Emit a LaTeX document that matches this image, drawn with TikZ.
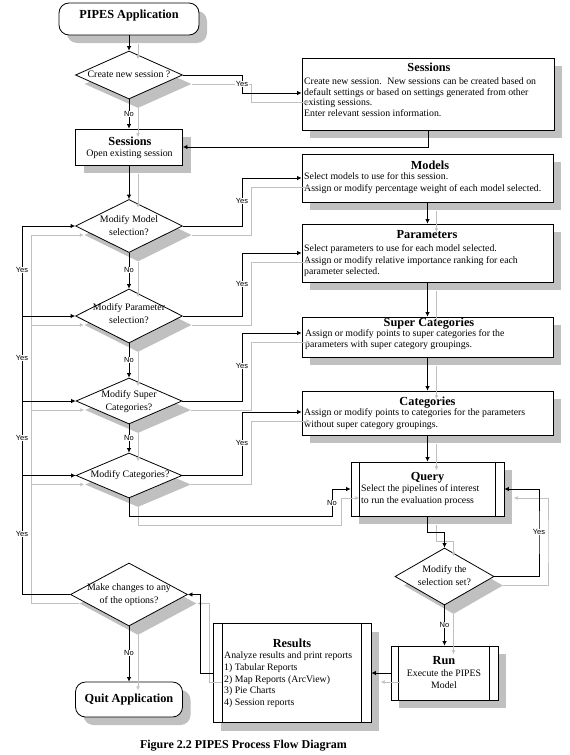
\documentclass[tikz,border=0pt]{standalone}
\usepackage{fontspec}
\setmainfont{Liberation Serif}
\newfontfamily\lblfont{Liberation Sans}
\usetikzlibrary{arrows.meta,shapes.geometric,shadows,calc}
\definecolor{shd}{RGB}{192,192,192}
\begin{document}
\begin{tikzpicture}[x=1pt,y=-1pt,
  shp/.style={draw=black, fill=white, line width=0.8pt, inner sep=0pt},
  box/.style={shp, rectangle, drop shadow={shadow xshift=8pt, shadow yshift=-8pt, fill=shd, opacity=1}},
  term/.style={box, rounded corners=10pt},
  dec/.style={shp, diamond, drop shadow={shadow xshift=9pt, shadow yshift=-9pt, fill=shd, opacity=1}},
  conn/.style={draw=black, line width=0.8pt, -{Latex[length=4.5pt,width=4.5pt]},
     preaction={draw=shd, transform canvas={shift={(9pt,-9pt)}}}},
  connplain/.style={draw=black, line width=0.8pt, -{Latex[length=4.5pt,width=4.5pt]}},
  ttl/.style={font=\fontsize{12.3}{14}\selectfont\bfseries, inner sep=0pt, anchor=base},
  body/.style={font=\fontsize{9.8}{11.5}\selectfont, inner sep=0pt, anchor=north west, align=left},
  dtxt/.style={font=\fontsize{9.9}{12.5}\selectfont, inner sep=0pt, anchor=north, align=center},
  lbl/.style={font=\lblfont\fontsize{7.5}{8}\selectfont, fill=white, inner sep=0.6pt}
]
\fill[white] (0,0) rectangle (570,755);
\useasboundingbox (0,0) rectangle (570,755);

% ---------- shapes ----------
\node[term, minimum width=140pt, minimum height=32pt] (start) at (129,19) {};
\node[dec, minimum width=107pt, minimum height=48pt] (d1) at (129,75) {};
\node[box, minimum width=252pt, minimum height=72pt] (sessNew) at (428,94) {};
\node[box, minimum width=107pt, minimum height=36pt] (sessOpen) at (129,147) {};
\node[dec, minimum width=107pt, minimum height=53pt] (d2) at (129,226) {};
\node[box, minimum width=251pt, minimum height=48pt] (models) at (427.5,178) {};
\node[dec, minimum width=107pt, minimum height=54pt] (d3) at (129,316) {};
\node[box, minimum width=251pt, minimum height=58pt] (params) at (427.5,253) {};
\node[dec, minimum width=106pt, minimum height=46pt] (d4) at (129,401) {};
\node[box, minimum width=251pt, minimum height=40pt] (superc) at (427.5,337) {};
\node[dec, minimum width=106pt, minimum height=45pt] (d5) at (129,475.5) {};
\node[box, minimum width=251pt, minimum height=44pt] (cats) at (427.5,413) {};
\node[box, minimum width=153pt, minimum height=54pt] (query) at (427.5,489) {};
\node[dec, minimum width=99pt, minimum height=57pt] (d6) at (444.5,576.5) {};
\node[box, minimum width=107pt, minimum height=54pt] (run) at (444.5,673) {};
\node[box, minimum width=158pt, minimum height=99pt] (results) at (292,673) {};
\node[dec, minimum width=117pt, minimum height=63pt] (d7) at (129,594.5) {};
\node[term, minimum width=107pt, minimum height=35pt] (quit) at (129,699.5) {};

% inner side bars
\draw[line width=0.8pt] ([xshift=9pt]query.north west) -- ([xshift=9pt]query.south west);
\draw[line width=0.8pt] ([xshift=-9pt]query.north east) -- ([xshift=-9pt]query.south east);
\draw[line width=0.8pt] ([xshift=8pt]run.north west) -- ([xshift=8pt]run.south west);
\draw[line width=0.8pt] ([xshift=-9pt]run.north east) -- ([xshift=-9pt]run.south east);
\draw[line width=0.8pt] ([xshift=10pt]results.north west) -- ([xshift=10pt]results.south west);
\draw[line width=0.8pt] ([xshift=-10pt]results.north east) -- ([xshift=-10pt]results.south east);

% ---------- texts ----------
\node[ttl] (startT) at (129,18) {PIPES Application};
\node[dtxt] (d1T) at (129,70.5) {\rule{0pt}{7pt}Create new session ?};
\node[ttl] (sessNewT1) at (429,71) {Sessions};
\node[body, font=\fontsize{9.8}{10.5}\selectfont] (sessNewT) at (304,77.5) {\rule{0pt}{7pt}Create new session.~ New sessions can be created based on\\default settings or based on settings generated from other\\existing sessions.\\Enter relevant session information.};
\node[ttl] (sessOpenT1) at (130,145) {Sessions};
\node[dtxt] (sessOpenT) at (129.5,149.5) {\rule{0pt}{7pt}Open existing session};
\node[dtxt] (d2T) at (129,215.5) {\rule{0pt}{7pt}Modify Model\\selection?};
\node[ttl] (modelsT1) at (430,169) {Models};
\node[body] (modelsT) at (304,172.5) {\rule{0pt}{7pt}Select models to use for this session.\\Assign or modify percentage weight of each model selected.};
\node[dtxt] (d3T) at (129,303.5) {\rule{0pt}{7pt}Modify Parameter\\selection?};
\node[ttl] (paramsT1) at (427,238) {Parameters};
\node[body] (paramsT) at (304,244.5) {\rule{0pt}{7pt}Select parameters to use for each model selected.\\Assign or modify relative importance ranking for each\\parameter selected.};
\node[dtxt] (d4T) at (129,390.5) {\rule{0pt}{7pt}Modify Super\\Categories?};
\node[ttl] (supercT1) at (429,326.5) {Super Categories};
\node[body] (supercT) at (305,329) {\rule{0pt}{7pt}Assign or modify points to super categories for the\\parameters with super category groupings.};
\node[dtxt] (d5T) at (130,470.5) {\rule{0pt}{7pt}Modify Categories?};
\node[ttl] (catsT1) at (427.5,405) {Categories};
\node[body] (catsT) at (304,408.5) {\rule{0pt}{7pt}Assign or modify points to categories for the parameters\\without super category groupings.};
\node[ttl] (queryT1) at (427.5,480) {Query};
\node[body] (queryT) at (361,484.5) {\rule{0pt}{7pt}Select the pipelines of interest\\to run the evaluation process};
\node[dtxt] (d6T) at (444.5,565.5) {\rule{0pt}{7pt}Modify the\\selection set?};
\node[ttl] (runT1) at (444,664) {Run};
\node[dtxt, font=\fontsize{9.8}{12}\selectfont] (runT) at (444,669.5) {\rule{0pt}{7pt}Execute the PIPES\\Model};
\node[ttl] (resultsT1) at (292,647) {Results};
\node[body, font=\fontsize{9.8}{11.7}\selectfont] (resultsT) at (224,651.5) {\rule{0pt}{7pt}Analyze results and print reports\\1) Tabular Reports\\2) Map Reports (ArcView)\\3) Pie Charts\\4) Session reports};
\node[dtxt] (d7T) at (129,583.5) {\rule{0pt}{7pt}Make changes to any\\of the options?};
\node[ttl] (quitT) at (129,702) {Quit Application};
\node[ttl, font=\fontsize{12}{14}\selectfont\bfseries] (caption) at (243.5,748) {Figure 2.2 PIPES Process Flow Diagram};

% ---------- connectors ----------
\coordinate (y1) at (242,93);
\coordinate (y2) at (242,178);
\coordinate (y3) at (242,253);
\coordinate (y4) at (242,333);
\coordinate (y5) at (242,412);
\coordinate (n5) at (332,516);
\coordinate (q1) at (427.5,532);
\coordinate (y6) at (539,532);
\coordinate (r1) at (200,594.5);
\coordinate (lp) at (22,594.5);
\coordinate (j3) at (22,316);
\coordinate (j4) at (22,401);
\coordinate (j5) at (22,475.5);

\draw[conn] (start) -- (d1);
\draw[conn] (d1.east) -| (y1) -- (y1 -| sessNew.west);
\draw[conn] (d1) -- (sessOpen);
\draw[connplain] (sessNew.south) |- (sessOpen.east);
\draw[conn] (sessOpen) -- (d2);
\draw[conn] (d2.east) -| (y2) -- (y2 -| models.west);
\draw[conn] (d2) -- (d3);
\draw[conn] (d3.east) -| (y3) -- (y3 -| params.west);
\draw[conn] (d3) -- (d4);
\draw[conn] (d4.east) -| (y4) -- (y4 -| superc.west);
\draw[conn] (d4) -- (d5);
\draw[conn] (d5.east) -| (y5) -- (y5 -| cats.west);
\draw[conn] (models) -- (params);
\draw[conn] (params) -- (superc);
\draw[conn] (superc) -- (cats);
\draw[conn] (cats) -- (query);
\draw[conn] (d5.south) |- (n5) |- (query.west);
\draw[conn] (query.south) -- (q1) -| (d6.north);
\draw[conn] (d6.east) -| (y6) |- (query.east);
\draw[conn] (d6) -- (run);
\draw[conn] (run) -- (results);
\draw[conn] (results.west) -| (r1) -- (d7.east);
\draw[conn] (d7) -- (quit);
\draw[conn] (d7.west) -- (lp) |- (d2.west);
\draw[conn] (j3) -- (d3.west);
\draw[conn] (j4) -- (d4.west);
\draw[conn] (j5) -- (d5.west);

% ---------- labels ----------
\node[lbl] (l1) at (242,84) {Yes};
\node[lbl] (l2) at (129,114) {No};
\node[lbl] (l3) at (242,201) {Yes};
\node[lbl] (l4) at (129,270) {No};
\node[lbl] (l5) at (242,284) {Yes};
\node[lbl] (l6) at (129,360) {No};
\node[lbl] (l7) at (242,366) {Yes};
\node[lbl] (l8) at (129,438) {No};
\node[lbl] (l9) at (242,443) {Yes};
\node[lbl] (l10) at (332,503) {No};
\node[lbl] (l11) at (539,532) {Yes};
\node[lbl] (l12) at (444.5,625) {No};
\node[lbl] (l13) at (129,653) {No};
\node[lbl] (l14) at (22,270) {Yes};
\node[lbl] (l15) at (22,358) {Yes};
\node[lbl] (l16) at (22,438) {Yes};
\node[lbl] (l17) at (22,534) {Yes};
\end{tikzpicture}
\end{document}
